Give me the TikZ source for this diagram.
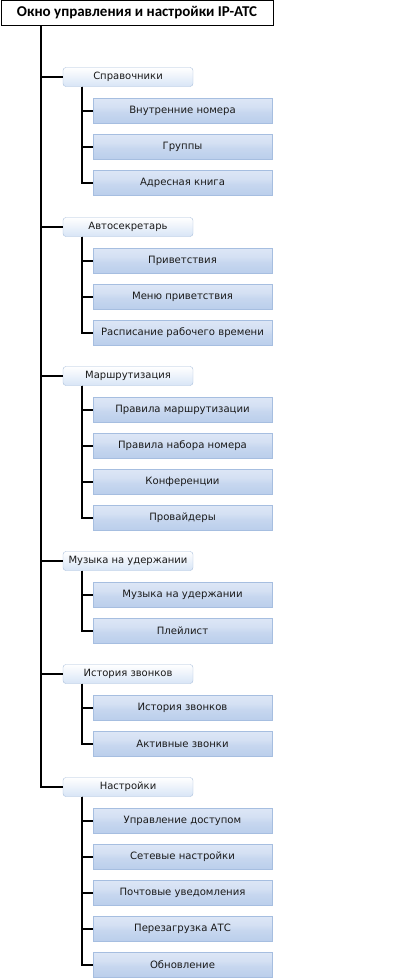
\documentclass[tikz,border=0pt]{standalone}
\usepackage{fontspec}
\setmainfont{DejaVu Sans}
\newfontfamily\titlefont{Carlito}
\usetikzlibrary{shadings}
\definecolor{catborder}{HTML}{A9BFDC}
\definecolor{catbottom}{HTML}{D8E5F6}
\definecolor{itemborder}{HTML}{A6BEE0}
\definecolor{txt}{HTML}{1A1A1A}
\definecolor{shA}{HTML}{BACEEB}
\definecolor{shB}{HTML}{C7D7EF}
\definecolor{shC}{HTML}{D4E0F3}
\definecolor{shD}{HTML}{DCE6F6}
\definecolor{shE}{HTML}{E6EEF9}
\pgfdeclareverticalshading{itemshade}{100bp}{
  color(0bp)=(shA);
  color(25bp)=(shA);
  color(48bp)=(shB);
  color(58bp)=(shC);
  color(75bp)=(shD);
  color(100bp)=(shE)}
\tikzset{
  rootbox/.style={draw=black, line width=1pt, minimum width=272pt, minimum height=25pt, inner sep=0pt, font=\titlefont\bfseries\fontsize{15}{17}\selectfont},
  catbox/.style={draw=catborder, rounded corners=3pt, top color=white, bottom color=catbottom, minimum width=130pt, minimum height=19pt, inner sep=0pt, text=txt, font=\fontsize{10}{12}\selectfont},
  itembox/.style={draw=itemborder, shading=itemshade, minimum width=179pt, minimum height=25pt, inner sep=0pt, text=txt, font=\fontsize{10.1}{12}\selectfont},
  conn/.style={draw=black, line width=1.1pt},
}
\begin{document}
\begin{tikzpicture}[x=1pt,y=-1pt]
\useasboundingbox (0,0) rectangle (400,978);
\node[rootbox] (root) at (137,13) {Окно управления и настройки IP-АТС};
\coordinate (trunk) at (41,25.5);
% categories
\node[catbox] (c1) at (128,77) {Справочники};
\node[catbox] (c2) at (128,227) {Автосекретарь};
\node[catbox] (c3) at (128,376) {Маршрутизация};
\node[catbox] (c4) at (128,561) {Музыка на удержании};
\node[catbox] (c5) at (128,674) {История звонков};
\node[catbox] (c6) at (128,787) {Настройки};
\foreach \c in {c1,c2,c3,c4,c5,c6} {\draw[conn] (trunk) |- (\c.west);}
% items
\node[itembox] (i11) at (182.5,111) {Внутренние номера};
\node[itembox] (i12) at (182.5,147) {Группы};
\node[itembox] (i13) at (182.5,183) {Адресная книга};
\node[itembox] (i21) at (182.5,261) {Приветствия};
\node[itembox] (i22) at (182.5,297) {Меню приветствия};
\node[itembox] (i23) at (182.5,333) {Расписание рабочего времени};
\node[itembox] (i31) at (182.5,410) {Правила маршрутизации};
\node[itembox] (i32) at (182.5,446) {Правила набора номера};
\node[itembox] (i33) at (182.5,482) {Конференции};
\node[itembox] (i34) at (182.5,518) {Провайдеры};
\node[itembox] (i41) at (182.5,595) {Музыка на удержании};
\node[itembox] (i42) at (182.5,631) {Плейлист};
\node[itembox] (i51) at (182.5,708) {История звонков};
\node[itembox] (i52) at (182.5,744) {Активные звонки};
\node[itembox] (i61) at (182.5,821) {Управление доступом};
\node[itembox] (i62) at (182.5,857) {Сетевые настройки};
\node[itembox] (i63) at (182.5,893) {Почтовые уведомления};
\node[itembox] (i64) at (182.5,929) {Перезагрузка АТС};
\node[itembox] (i65) at (182.5,965) {Обновление};
\foreach \c/\items in {c1/{i11,i12,i13}, c2/{i21,i22,i23}, c3/{i31,i32,i33,i34}, c4/{i41,i42}, c5/{i51,i52}, c6/{i61,i62,i63,i64,i65}} {
  \foreach \i in \items {\draw[conn] ([xshift=-46pt]\c.south) |- (\i.west);}
}
\end{tikzpicture}
\end{document}
